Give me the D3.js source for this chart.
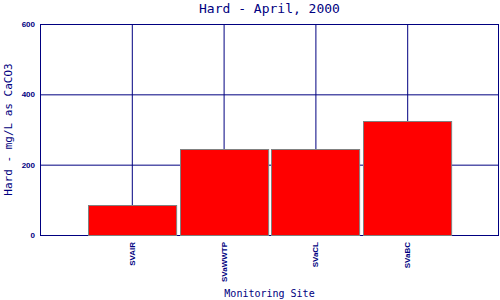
<!DOCTYPE html>
<html>
<head>
<meta charset="utf-8">
<script src="https://cdn.jsdelivr.net/npm/d3@7"></script>
<style>
  body { margin: 0; background: #fff; }
  svg { display: block; }
</style>
</head>
<body>
<div id="plot"></div>
<script>
const width = 500;
const height = 300;
const margin = {top: 24, right: 1, bottom: 65, left: 40};
const navy = "#000080";

// data
const sites = ["SVAIR", "SVaWWTP", "SVaCL", "SVaBC"];
const hardness = [84, 245, 245, 325];
const yTicks = [0, 200, 400, 600];

const svg = d3.select("#plot").append("svg")
    .attr("width", width)
    .attr("height", height)
    .style("font-family", "'DejaVu Sans Mono', monospace");

const x = d3.scaleLinear()
    .domain([0, sites.length + 1])
    .range([margin.left, width - margin.right]);
const y = d3.scaleLinear()
    .domain([0, 600])
    .range([height - margin.bottom, margin.top]);

const plotW = x.range()[1] - x.range()[0];
const plotH = y.range()[0] - y.range()[1];

// y gridlines + labels
const yAxis = svg.append("g")
    .attr("transform", "translate(" + margin.left + ",0)")
    .call(d3.axisLeft(y).tickValues(yTicks).tickSize(-plotW).tickPadding(5));
yAxis.select(".domain").remove();
yAxis.selectAll("line").attr("stroke", navy);
yAxis.selectAll("text")
    .attr("fill", navy)
    .style("font-size", "8px")
    .style("font-weight", "bold");

// x gridlines + labels
const xAxis = svg.append("g")
    .attr("transform", "translate(0," + y(0) + ")")
    .call(d3.axisBottom(x)
        .tickValues(sites.map((d, i) => i + 1))
        .tickFormat(i => sites[i - 1])
        .tickSize(-plotH));
xAxis.select(".domain").remove();
xAxis.selectAll("line").attr("stroke", navy);
xAxis.selectAll("text")
    .attr("fill", navy)
    .style("font-size", "8px")
    .style("font-weight", "bold")
    .attr("text-anchor", "end")
    .attr("transform", "rotate(-90)")
    .attr("x", -7)
    .attr("y", 0)
    .attr("dy", "0.32em");

// frame
svg.append("rect")
    .attr("x", x.range()[0] + 0.5)
    .attr("y", y.range()[1] + 0.5)
    .attr("width", plotW - 1)
    .attr("height", plotH)
    .attr("fill", "none")
    .attr("stroke", navy);

// bars
const half = (x(1) - x(0)) * 0.48;
svg.selectAll(".bar")
    .data(hardness)
    .enter()
    .append("rect")
    .attr("class", "bar")
    .attr("x", (d, i) => Math.round(x(i + 1) - half) + 0.5)
    .attr("y", d => Math.round(y(d)) + 0.5)
    .attr("width", half * 2)
    .attr("height", d => y(0) - Math.round(y(d)))
    .attr("fill", "#ff0000")
    .attr("stroke", "#808080")
    .attr("stroke-width", 1);

// title
svg.append("text")
    .attr("x", (x.range()[0] + x.range()[1]) / 2)
    .attr("y", 13)
    .attr("text-anchor", "middle")
    .attr("fill", navy)
    .style("font-size", "13px")
    .text("Hard - April, 2000");

// axis titles
svg.append("text")
    .attr("x", (x.range()[0] + x.range()[1]) / 2)
    .attr("y", 297)
    .attr("text-anchor", "middle")
    .attr("fill", navy)
    .style("font-size", "10px")
    .text("Monitoring Site");

svg.append("text")
    .attr("transform", "translate(12," + (y.range()[0] + y.range()[1]) / 2 + ") rotate(-90)")
    .attr("text-anchor", "middle")
    .attr("fill", navy)
    .style("font-size", "11px")
    .text("Hard - mg/L as CaCO3");
</script>
</body>
</html>
